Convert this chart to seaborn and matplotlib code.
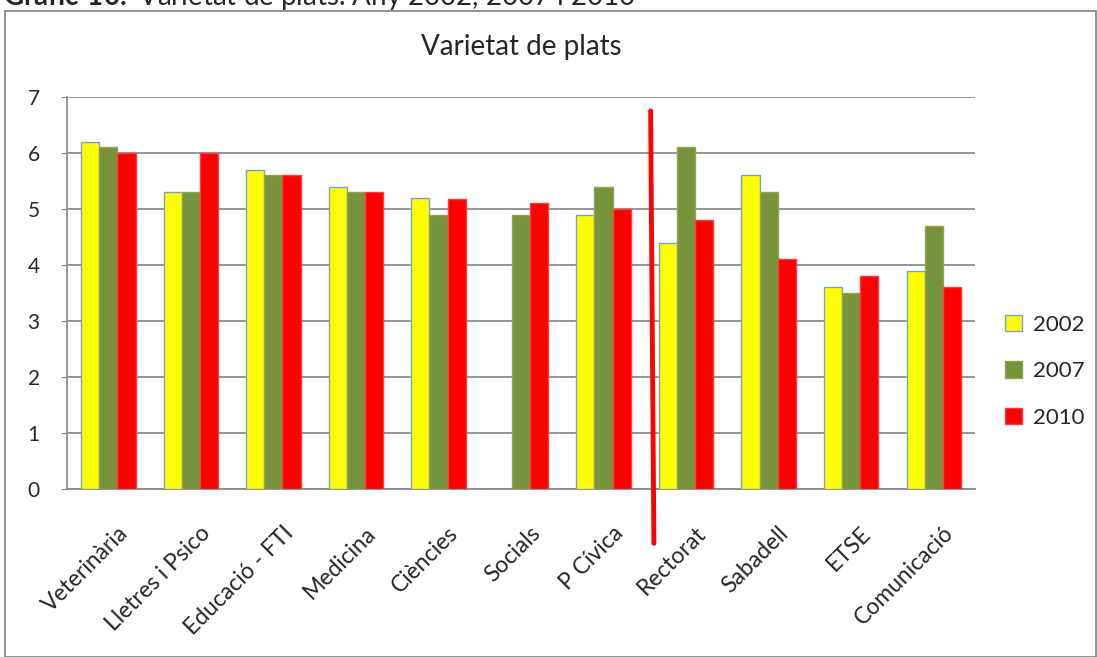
import matplotlib
matplotlib.use("Agg")
import matplotlib.pyplot as plt
import matplotlib.patches as mpatches
import matplotlib.transforms as mtransforms
import numpy as np
import pandas as pd
import seaborn as sns

# data
centres = ['Veterinària', 'Lletres i Psico', 'Educació - FTI', 'Medicina', 'Ciències',
           'Socials', 'P Cívica', 'Rectorat', 'Sabadell', 'ETSE', 'Comunicació']
vals_2002 = [6.2, 5.3, 5.7, 5.4, 5.2, np.nan, 4.9, 4.4, 5.6, 3.6, 3.9]
vals_2007 = [6.1, 5.3, 5.6, 5.3, 4.9, 4.9, 5.4, 6.1, 5.3, 3.5, 4.7]
vals_2010 = [6.0, 6.0, 5.6, 5.3, 5.17, 5.1, 5.0, 4.8, 4.1, 3.8, 3.6]
years = ['2002', '2007', '2010']

# red separator line drawn by hand in the original (between P Cívica and Rectorat)
sep_x = [6.57, 6.61]
sep_y = [6.75, -0.97]

colors = {'2002': '#FFFF00', '2007': '#77933C', '2010': '#FF0000'}
edges = {'2002': '#7B9FD0', '2007': '#8CA64E', '2010': '#FF3B3B'}

df = pd.DataFrame({'Centre': centres, '2002': vals_2002, '2007': vals_2007, '2010': vals_2010})
long = df.melt(id_vars='Centre', var_name='Any', value_name='Valor')

sns.set_style('white')
plt.rcParams['font.family'] = ['Lato', 'DejaVu Sans']
plt.rcParams['mathtext.fontset'] = 'custom'
plt.rcParams['mathtext.bf'] = 'Lato:bold'
plt.rcParams['mathtext.rm'] = 'Lato'

fig = plt.figure(figsize=(10.97, 6.57), dpi=100)
ax = fig.add_axes([0.0611, 0.2557, 0.8277, 0.5967])

sns.barplot(data=long, x='Centre', y='Valor', hue='Any', hue_order=years,
            order=centres, palette=colors, width=0.66, saturation=1,
            errorbar=None, legend=False, ax=ax, zorder=3)

# edge colours per year
for container, yr in zip(ax.containers, years):
    for bar in container:
        bar.set_edgecolor(edges[yr])
        bar.set_linewidth(1.0)

ax.set_ylim(0, 7)
ax.set_xlim(-0.5, len(centres) - 0.5)
ax.set_yticks(range(0, 8))
ax.yaxis.grid(True, color='#8C8C8C', linewidth=1.3, zorder=0)
ax.set_axisbelow(True)
ax.set_xlabel('')
ax.set_ylabel('')
for s in ['top', 'right']:
    ax.spines[s].set_visible(False)
for s in ['left', 'bottom']:
    ax.spines[s].set_color('#8C8C8C')
    ax.spines[s].set_linewidth(1.3)
ax.tick_params(axis='y', which='both', left=True, length=4, color='#8C8C8C',
               labelsize=15, pad=20)
ax.tick_params(axis='x', length=0, labelsize=16.5, pad=24)
ax.set_xticks(range(len(centres)))
ax.set_xticklabels(centres, rotation=45, ha='right', rotation_mode='anchor')
shift = mtransforms.ScaledTranslation(9 / 100, 0, fig.dpi_scale_trans)
for lab in ax.get_xticklabels():
    lab.set_transform(lab.get_transform() + shift)
for lab in ax.get_yticklabels():
    lab.set_horizontalalignment('center')

ax.set_title('Varietat de plats', fontsize=20, pad=30)

ax.plot(sep_x, sep_y, color='#FF0000', linewidth=3.5, clip_on=False, zorder=5)

handles = [mpatches.Patch(facecolor=colors[y], edgecolor=edges[y], label=y) for y in years]
fig.legend(handles=handles, loc='center left', bbox_to_anchor=(0.898, 0.435),
           frameon=False, fontsize=16, handlelength=0.75, handleheight=0.75,
           labelspacing=1.2, handletextpad=0.5)

# outer frame and cut-off caption at the top
fig.patches.append(mpatches.Rectangle((0.005, 0.0), 0.994, 0.984, transform=fig.transFigure,
                                      fill=False, edgecolor='#808080', linewidth=1.2))
fig.text(0.003, 0.992, r'$\mathbf{Gràfic\ 10.}$ Varietat de plats. Any 2002, 2007 i 2010',
         fontsize=20, va='baseline', ha='left')

fig.savefig('out.png', dpi=100)
